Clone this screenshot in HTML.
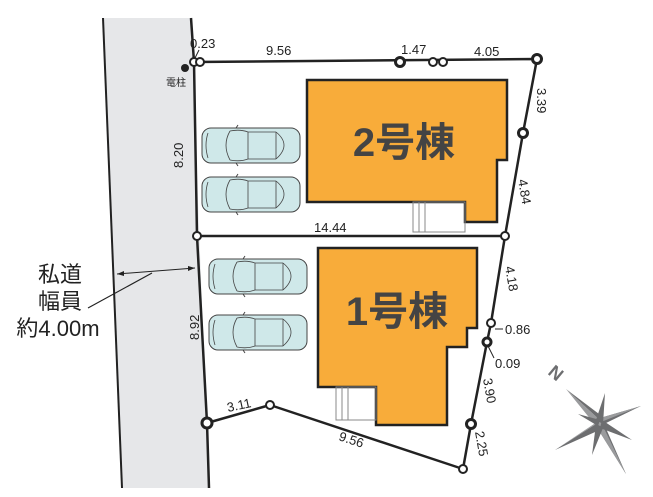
<!DOCTYPE html>
<html><head><meta charset="utf-8"><style>
html,body{margin:0;padding:0;background:#fff;}
svg{display:block;}
text{font-family:"Liberation Sans","Noto Sans CJK JP",sans-serif;fill:#222;}
</style></head><body>
<svg width="653" height="497" viewBox="0 0 653 497" xmlns="http://www.w3.org/2000/svg">
<defs>
<g id="car">
<rect x="0" y="0" width="98" height="35" rx="9" fill="#cfe8e9" stroke="#444" stroke-width="1"/>
<path d="M28 3 Q20 17 28 32 M28 3 Q38 1 46 4 M28 32 Q38 34 46 31 M46 4 L46 31 M74 4 L74 31 M74 4 Q90 17 74 31 M6 5 Q2 17 6 30 M46 4 L74 4 M46 31 L74 31" fill="none" stroke="#444" stroke-width="0.8"/>
<path d="M34 0 L36 -3 M34 35 L36 38" stroke="#444" stroke-width="1"/>
</g>
</defs>
<polygon points="103,18 191,18 209,488 122,488" fill="#e6e7e9"/>
<line x1="103" y1="18" x2="122" y2="488" stroke="#222" stroke-width="2"/>
<g fill="none" stroke="#222" stroke-width="2.5" stroke-linejoin="round">
<polyline points="194,62 537,59 523,133 505,236 491,323 487,342 471,424 463,469 270,405 207,423"/>
<polyline points="191,18 194,62 197,236 207,423 209,488"/>
<line x1="197" y1="236" x2="505" y2="236"/>
</g>
<polygon points="307,80 507,80 507,160 497,160 497,222 465,222 465,202 307,202" fill="#f8ac3a" stroke="#222" stroke-width="2.5"/>
<rect x="413" y="202" width="52" height="30" fill="none" stroke="#888" stroke-width="1"/>
<line x1="419" y1="202" x2="419" y2="232" stroke="#888"/><line x1="425" y1="202" x2="425" y2="232" stroke="#888"/>
<polygon points="318,248 477,248 477,328 467,328 467,347 447,347 447,425 376,425 376,387 318,387" fill="#f8ac3a" stroke="#222" stroke-width="2.5"/>
<rect x="336" y="387" width="40" height="33" fill="none" stroke="#888" stroke-width="1"/>
<line x1="342" y1="387" x2="342" y2="420" stroke="#888"/><line x1="348" y1="387" x2="348" y2="420" stroke="#888"/>
<text x="404" y="156" font-size="40" font-weight="bold" text-anchor="middle" style="fill:#444">2号棟</text>
<text x="397" y="325" font-size="40" font-weight="bold" text-anchor="middle" style="fill:#444">1号棟</text>
<use href="#car" x="202" y="128"/><use href="#car" x="202" y="177"/>
<use href="#car" x="209" y="259"/><use href="#car" x="209" y="315"/>
<g fill="#fff" stroke="#222" stroke-width="2">
<circle cx="194" cy="62" r="4"/><circle cx="200" cy="62" r="4"/>
<circle cx="400" cy="62" r="4.5" stroke-width="3"/><circle cx="433" cy="62" r="4"/><circle cx="443" cy="62" r="4"/>
<circle cx="537" cy="59" r="4.5" stroke-width="3"/><circle cx="523" cy="133" r="4.5" stroke-width="3"/>
<circle cx="197" cy="236" r="4"/><circle cx="505" cy="236" r="4"/>
<circle cx="491" cy="323" r="4"/><circle cx="487" cy="342" r="4" stroke-width="3"/>
<circle cx="471" cy="424" r="4.5" stroke-width="3"/><circle cx="463" cy="469" r="4"/>
<circle cx="270" cy="405" r="4"/><circle cx="207" cy="423" r="5" stroke-width="3"/>
</g>
<circle cx="185" cy="68" r="4" fill="#222"/>
<text x="166" y="86" font-size="10">電柱</text>
<line x1="195" y1="58" x2="199" y2="50" stroke="#222"/>
<g font-size="13">
<text x="190" y="48">0.23</text>
<text x="266" y="55">9.56</text>
<text x="401" y="54">1.47</text>
<text x="474" y="56">4.05</text>
<text x="314" y="232">14.44</text>
<text transform="translate(228,412) rotate(-12)">3.11</text>
<text transform="translate(338,440) rotate(18)">9.56</text>
<text transform="translate(537,88) rotate(90)">3.39</text>
<text transform="translate(518,180) rotate(80)">4.84</text>
<text transform="translate(505,267) rotate(80)">4.18</text>
<text transform="translate(483,379) rotate(80)">3.90</text>
<text transform="translate(475,432) rotate(80)">2.25</text>
<text transform="translate(183,168) rotate(-90)">8.20</text>
<text transform="translate(199,340) rotate(-90)">8.92</text>
<text x="505" y="334">0.86</text>
<text x="495" y="368">0.09</text>
</g>
<line x1="495" y1="329" x2="503" y2="329" stroke="#222"/>
<line x1="488" y1="346" x2="494" y2="358" stroke="#222"/>
<line x1="117" y1="274" x2="195" y2="268" stroke="#222" stroke-width="1"/>
<path d="M117 274 l7 -3 l0 5 z M195 268 l-7 -2 l0 5 z" fill="#222"/>
<line x1="88" y1="308" x2="152" y2="273" stroke="#222" stroke-width="1.2"/>
<text x="60" y="282" font-size="22" text-anchor="middle">私道</text>
<text x="60" y="309" font-size="22" text-anchor="middle">幅員</text>
<text x="58" y="336" font-size="22" text-anchor="middle">約4.00m</text>
<!-- compass -->
<g stroke="none">
<polygon points="566,389 599,414 604,424" fill="#6d6e70"/>
<polygon points="566,389 604,424 596,426" fill="#9a9b9d"/>
<polygon points="626,474 596,426 604,424" fill="#6d6e70"/>
<polygon points="626,474 600,420 596,426" fill="#9a9b9d"/>
<polygon points="641,406 604,424 600,418" fill="#6d6e70"/>
<polygon points="641,406 596,424 600,418" fill="#9a9b9d"/>
<polygon points="555,450 596,424 604,428" fill="#6d6e70"/>
<polygon points="555,450 600,420 596,424" fill="#9a9b9d"/>
<polygon points="605,393 603,424 596,420" fill="#6d6e70"/>
<polygon points="592,455 596,424 603,428" fill="#6d6e70"/>
<polygon points="578,414 600,420 598,426" fill="#6d6e70"/>
<polygon points="632,440 600,428 602,420" fill="#6d6e70"/>
</g>
<text x="549" y="380" font-size="18" font-weight="bold" transform="rotate(40 557 374)" style="fill:#6d6e70">N</text>
</svg>
</body></html>
